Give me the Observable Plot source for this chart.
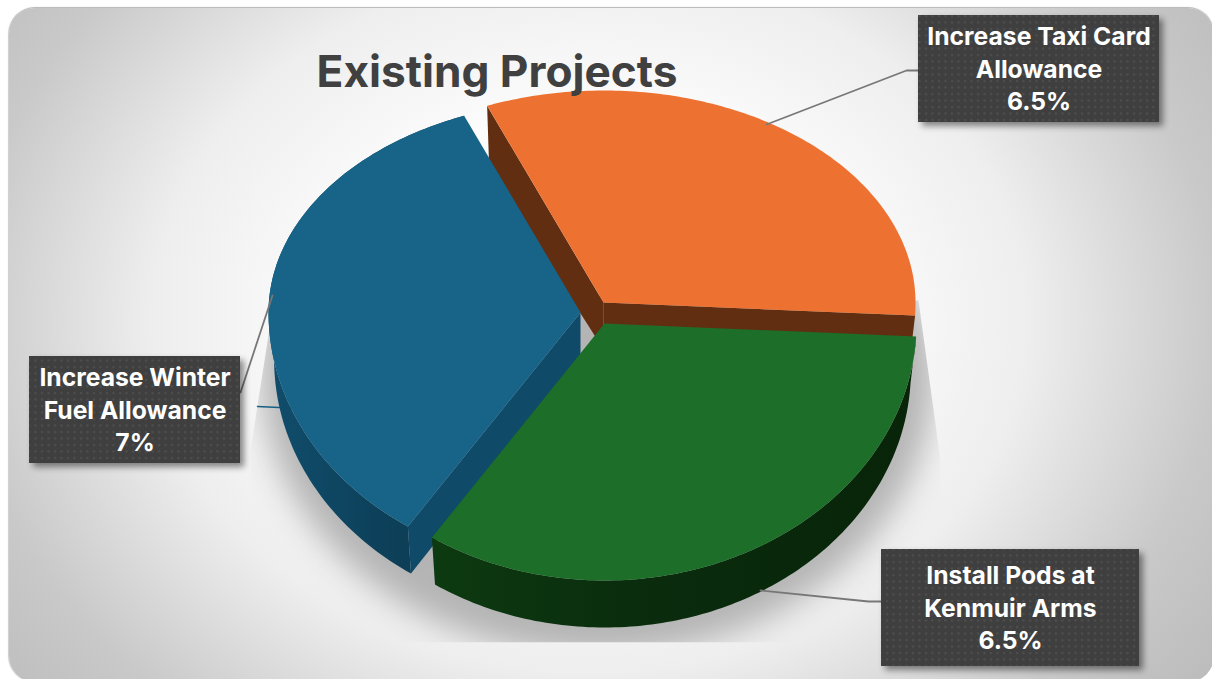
<!DOCTYPE html>
<html><head><meta charset="utf-8">
<script src="https://cdn.jsdelivr.net/npm/d3@7"></script>
<script src="https://cdn.jsdelivr.net/npm/@observablehq/plot@0.6"></script>
<style>
html,body{margin:0;padding:0;background:#fff;width:1212px;height:679px;overflow:hidden}
#bg{position:absolute;left:9px;top:8px;width:1205px;height:674px;border-radius:26px;
 background:radial-gradient(ellipse 730px 590px at 581px 312px,#fff 0%,#fcfcfc 35%,#eeeeee 60%,#c9c9c9 86%,#b8b8b8 110%);
 box-shadow:0 -1px 1px #b5b5b5,-1px 0 1px #d0d0d0}
#chart{position:absolute;left:0;top:0}
</style></head><body><div id="bg"></div><div id="chart"></div>
<script>
// Data
const categories = ["Increase Taxi Card\nAllowance", "Install Pods at\nKenmuir Arms", "Increase Winter\nFuel Allowance"];
const values = [6.5, 6.5, 7];
const valueLabels = ["6.5%", "6.5%", "7%"];
const titleText = "Existing Projects";

// Style and layout
const topColors = ["#ED7231", "#1C6E29", "#176488"];
const wallColors = ["#622E12", "#0B2E0D", "#0F4A68"];
const centers = [[603, 302], [604, 323], [580, 312]];
const labelBoxes = [[918, 1159, 15, 122], [881, 1139, 549, 666], [29, 240, 356, 463]];
const leaderLines = [
  [[766, 124], [906, 70], [919, 70]],
  [[760, 590], [868, 601], [881, 601]],
  [[240, 392], [272, 295]]
];
const blueLeader = [[257, 406], [300, 408]];
const labelFont = "Inter, 'Noto Sans', sans-serif";
const rx = 312, ryUp = 212, ryDown = 257, depth = 47;

// The slices of the pie come from the values
const slices = d3.pie().sort(null).value(d => d).startAngle(-21.9 * Math.PI / 180).endAngle((360 - 21.9) * Math.PI / 180)(values);

// Tilted-disc projection of an angle on the rim
function rim(center, a, down = 0, grow = 1) {
  const t = a + 21.9 * Math.PI / 180;
  const w = a - (4.55 * Math.sin(t) + 2.3 * Math.sin(2 * t)) * Math.PI / 180;
  const s = Math.sin(w), c = Math.cos(w);
  const yy = c > 0 ? -ryUp * c : -ryDown * c;
  const shrink = down ? 0.982 : 1;
  return {x: center[0] + rx * s * shrink * grow, y: center[1] + yy * grow + down};
}
function arc(center, a0, a1, down = 0, grow = 1) {
  const n = 120, pts = [];
  for (let i = 0; i <= n; ++i) pts.push(rim(center, a0 + (a1 - a0) * i / n, down, grow));
  return pts;
}
const xy = {x: "x", y: "y", curve: "linear", stroke: "none"};
const topPoly = i => [{x: centers[i][0], y: centers[i][1]}, ...arc(centers[i], slices[i].startAngle, slices[i].endAngle)];
const sidePoly = i => [...arc(centers[i], slices[i].startAngle, slices[i].endAngle), ...arc(centers[i], slices[i].endAngle, slices[i].startAngle, depth)];
const wallPoly = (i, a) => {
  const c = centers[i], p = rim(c, a), q = rim(c, a, depth);
  return [{x: c[0], y: c[1]}, p, q, {x: c[0], y: c[1] + depth}];
};
const orangeLeftWall = () => {
  const c = centers[0], a = slices[0].startAngle, p = rim(c, a), q = rim(c, a, 64);
  return [{x: c[0], y: c[1]}, p, q, {x: c[0], y: c[1] + 47}];
};
const shadow = arc([597, 345], 0, 2 * Math.PI, 28, 1.1);

const withShadowClip = (i, s, v, d, c, next) => {
  const g = next(i, s, v, d, c);
  g.setAttribute("clip-path", "url(#shadowClip)");
  return g;
};
const boxes = labelBoxes.map(b => ({x1: b[0], x2: b[1], y1: b[2], y2: b[3]}));
const labelRows = labelBoxes.map((b, i) => ({x: (b[0] + b[1]) / 2, y: (b[2] + b[3]) / 2 - 2, t: categories[i] + "\n" + valueLabels[i]}));
const asPts = l => l.map(([x, y]) => ({x, y}));

const plot = Plot.plot({
  width: 1212, height: 679, margin: 0,
  style: {background: "transparent"},
  x: {domain: [0, 1212], range: [0, 1212], axis: null},
  y: {domain: [0, 679], range: [0, 679], axis: null},
  marks: [
    Plot.line(shadow, {...xy, fill: "#b4b4b4", imageFilter: "blur(16px)", render: withShadowClip}),
    Plot.line(asPts(blueLeader), {x: "x", y: "y", stroke: "#156082", strokeWidth: 1.5}),
    Plot.line(orangeLeftWall(), {...xy, fill: wallColors[0]}),
    Plot.line(wallPoly(0, slices[0].endAngle), {...xy, fill: wallColors[0]}),
    Plot.line(topPoly(0), {...xy, fill: topColors[0]}),
    Plot.line(sidePoly(2), {...xy, fill: "url(#blueSide)"}),
    Plot.line(wallPoly(2, slices[2].startAngle), {...xy, fill: wallColors[2]}),
    Plot.line(topPoly(2), {...xy, fill: topColors[2]}),
    Plot.line(sidePoly(1), {...xy, fill: "url(#greenSide)"}),
    Plot.line(topPoly(1), {...xy, fill: topColors[1]}),
    ...leaderLines.map(l => Plot.line(asPts(l), {x: "x", y: "y", stroke: "#777777", strokeWidth: 1.8})),
    Plot.rect(boxes, {x1: "x1", x2: "x2", y1: "y1", y2: "y2", fill: "url(#dots)", imageFilter: "drop-shadow(4px 4px 3px rgba(0,0,0,.45))"}),
    Plot.text(labelRows, {x: "x", y: "y", text: "t", fill: "white", fontSize: 24.7, fontWeight: 700, fontFamily: labelFont, lineHeight: 1.33, lineAnchor: "middle", textAnchor: "middle"}),
    Plot.text([titleText], {x: [496.5], y: [72], text: d => d, fill: "#404040", fontSize: 44.2, fontWeight: 700, fontFamily: labelFont, lineAnchor: "middle", textAnchor: "middle"})
  ]
});

const defs = d3.select(plot).append("defs");
const pat = defs.append("pattern").attr("id", "dots").attr("patternUnits", "userSpaceOnUse").attr("width", 6.5).attr("height", 6.5);
pat.append("rect").attr("width", 6.5).attr("height", 6.5).attr("fill", "#3f3f3f");
pat.append("circle").attr("cx", 3).attr("cy", 3).attr("r", 1.1).attr("fill", "#505050");
const grad = (id, stops) => {
  const g = defs.append("linearGradient").attr("id", id).attr("x1", 0).attr("y1", 0).attr("x2", 1).attr("y2", 0);
  stops.forEach(([o, c]) => g.append("stop").attr("offset", o).attr("stop-color", c));
};
grad("blueSide", [[0, "#104D6C"], [0.6, "#0D4059"], [1, "#0B3A51"]]);
grad("greenSide", [[0, "#0D3A10"], [0.45, "#0A2C0D"], [1, "#082409"]]);
defs.append("clipPath").attr("id", "shadowClip").append("polygon")
  .attr("points", "275,290 250,450 250,642 940,642 940,460 918,300");

document.getElementById("chart").append(plot);
</script></body></html>
